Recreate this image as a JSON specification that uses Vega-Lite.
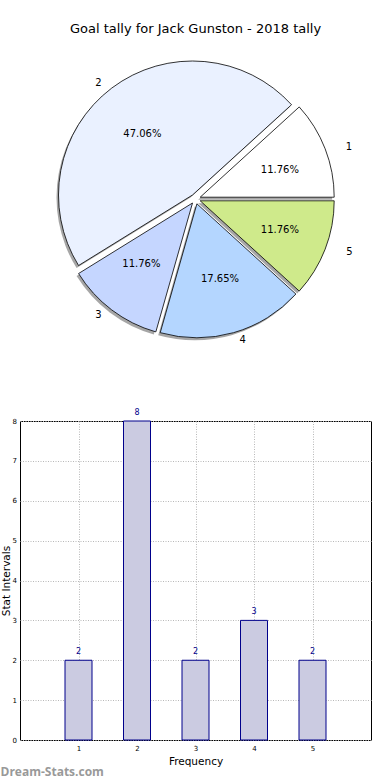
{
  "$schema": "https://vega.github.io/schema/vega-lite/v6.json",
  "padding": {"left": 0, "top": 23, "right": 0, "bottom": 4},
  "autosize": {"type": "pad"},
  "background": "white",
  "config": {"view": {"stroke": null}, "font": "DejaVu Sans"},
  "bounds": "flush",
  "spacing": 73,
  "title": {"text": "Dream-Stats.com", "orient": "bottom", "anchor": "start", "frame": "bounds", "fontSize": 12, "font": "Open Sans", "fontWeight": "bold", "color": "#999999", "offset": 0},
  "datasets": {
    "goals": [
      {"cat": 1, "value": 2, "pct": "11.76%"},
      {"cat": 2, "value": 8, "pct": "47.06%"},
      {"cat": 3, "value": 2, "pct": "11.76%"},
      {"cat": 4, "value": 3, "pct": "17.65%"},
      {"cat": 5, "value": 2, "pct": "11.76%"}
    ]
  },
  "vconcat": [
    {
      "width": 351,
      "height": 298,
      "title": {"text": "Goal tally for Jack Gunston - 2018 tally", "fontSize": 13, "fontWeight": "normal", "font": "DejaVu Sans", "color": "#000000", "offset": 14},
      "data": {"name": "goals"},
      "transform": [
        {"stack": "value", "groupby": [], "as": ["t0", "t1"], "sort": [{"field": "cat", "order": "ascending"}]},
        {"calculate": "(datum.t0 + datum.t1) / 2", "as": "tm"}
      ],
      "layer": [
        {"transform": [{"filter": "datum.cat == 1"}], "mark": {"type": "arc", "outerRadius": 134, "fill": "#4d4d4d", "opacity": 0.5, "xOffset": 2.7, "yOffset": 0.7},
         "encoding": {"theta": {"field": "t0", "type": "quantitative", "scale": {"domain": [0, 17], "range": [1.5708, -4.7124]}}, "theta2": {"field": "t1"}}},
        {"transform": [{"filter": "datum.cat == 2"}], "mark": {"type": "arc", "outerRadius": 134, "fill": "#4d4d4d", "opacity": 0.5, "xOffset": -5, "yOffset": -1.5},
         "encoding": {"theta": {"field": "t0", "type": "quantitative", "scale": {"domain": [0, 17], "range": [1.5708, -4.7124]}}, "theta2": {"field": "t1"}}},
        {"transform": [{"filter": "datum.cat == 3"}], "mark": {"type": "arc", "outerRadius": 134, "fill": "#4d4d4d", "opacity": 0.5, "xOffset": -5, "yOffset": 6.5},
         "encoding": {"theta": {"field": "t0", "type": "quantitative", "scale": {"domain": [0, 17], "range": [1.5708, -4.7124]}}, "theta2": {"field": "t1"}}},
        {"transform": [{"filter": "datum.cat == 4"}], "mark": {"type": "arc", "outerRadius": 134, "fill": "#4d4d4d", "opacity": 0.5, "xOffset": -0.6, "yOffset": 7.3},
         "encoding": {"theta": {"field": "t0", "type": "quantitative", "scale": {"domain": [0, 17], "range": [1.5708, -4.7124]}}, "theta2": {"field": "t1"}}},
        {"transform": [{"filter": "datum.cat == 5"}], "mark": {"type": "arc", "outerRadius": 134, "fill": "#4d4d4d", "opacity": 0.5, "xOffset": 2.7, "yOffset": 4.3},
         "encoding": {"theta": {"field": "t0", "type": "quantitative", "scale": {"domain": [0, 17], "range": [1.5708, -4.7124]}}, "theta2": {"field": "t1"}}},
        {"transform": [{"filter": "datum.cat == 1"}],
         "layer": [
           {"mark": {"type": "arc", "outerRadius": 134, "fill": "#ffffff", "stroke": "#000000", "strokeWidth": 0.8, "xOffset": 4.7, "yOffset": -1.8},
            "encoding": {"theta": {"field": "t0", "type": "quantitative", "scale": {"domain": [0, 17], "range": [1.5708, -4.7124]}}, "theta2": {"field": "t1"}}},
           {"mark": {"type": "text", "radius": 83.5, "fontSize": 10, "fill": "#000000", "align": "center", "baseline": "middle", "xOffset": 6.5, "yOffset": 1.0},
            "encoding": {"theta": {"field": "tm", "type": "quantitative", "stack": null, "scale": {"domain": [0, 17], "range": [1.5708, -4.7124]}}, "text": {"field": "pct"}}},
           {"mark": {"type": "text", "radius": 153, "fontSize": 10, "fill": "#000000", "align": "left", "baseline": "middle", "xOffset": 7.5, "yOffset": 3.0},
            "encoding": {"theta": {"field": "tm", "type": "quantitative", "stack": null, "scale": {"domain": [0, 17], "range": [1.5708, -4.7124]}}, "text": {"field": "cat"}}}
         ]},
        {"transform": [{"filter": "datum.cat == 2"}],
         "layer": [
           {"mark": {"type": "arc", "outerRadius": 134, "fill": "#eaf1ff", "stroke": "#000000", "strokeWidth": 0.8, "xOffset": -3.0, "yOffset": -4.0},
            "encoding": {"theta": {"field": "t0", "type": "quantitative", "scale": {"domain": [0, 17], "range": [1.5708, -4.7124]}}, "theta2": {"field": "t1"}}},
           {"mark": {"type": "text", "radius": 79, "fontSize": 10, "fill": "#000000", "align": "center", "baseline": "middle", "xOffset": -5.5, "yOffset": -1.5},
            "encoding": {"theta": {"field": "tm", "type": "quantitative", "stack": null, "scale": {"domain": [0, 17], "range": [1.5708, -4.7124]}}, "text": {"field": "pct"}}},
           {"mark": {"type": "text", "radius": 146, "fontSize": 10, "fill": "#000000", "align": "right", "baseline": "middle", "xOffset": -6.0, "yOffset": 1.0},
            "encoding": {"theta": {"field": "tm", "type": "quantitative", "stack": null, "scale": {"domain": [0, 17], "range": [1.5708, -4.7124]}}, "text": {"field": "cat"}}}
         ]},
        {"transform": [{"filter": "datum.cat == 3"}],
         "layer": [
           {"mark": {"type": "arc", "outerRadius": 134, "fill": "#c5d6ff", "stroke": "#000000", "strokeWidth": 0.8, "xOffset": -3.0, "yOffset": 4.0},
            "encoding": {"theta": {"field": "t0", "type": "quantitative", "scale": {"domain": [0, 17], "range": [1.5708, -4.7124]}}, "theta2": {"field": "t1"}}},
           {"mark": {"type": "text", "radius": 79, "fontSize": 10, "fill": "#000000", "align": "center", "baseline": "middle", "xOffset": -6.5, "yOffset": 1.5},
            "encoding": {"theta": {"field": "tm", "type": "quantitative", "stack": null, "scale": {"domain": [0, 17], "range": [1.5708, -4.7124]}}, "text": {"field": "pct"}}},
           {"mark": {"type": "text", "radius": 146, "fontSize": 10, "fill": "#000000", "align": "right", "baseline": "middle", "xOffset": -6.0, "yOffset": -1.0},
            "encoding": {"theta": {"field": "tm", "type": "quantitative", "stack": null, "scale": {"domain": [0, 17], "range": [1.5708, -4.7124]}}, "text": {"field": "cat"}}}
         ]},
        {"transform": [{"filter": "datum.cat == 4"}],
         "layer": [
           {"mark": {"type": "arc", "outerRadius": 134, "fill": "#b4d6ff", "stroke": "#000000", "strokeWidth": 0.8, "xOffset": 1.4, "yOffset": 4.8},
            "encoding": {"theta": {"field": "t0", "type": "quantitative", "scale": {"domain": [0, 17], "range": [1.5708, -4.7124]}}, "theta2": {"field": "t1"}}},
           {"mark": {"type": "text", "radius": 77, "fontSize": 10, "fill": "#000000", "align": "center", "baseline": "middle", "xOffset": 3.4, "yOffset": 6.0},
            "encoding": {"theta": {"field": "tm", "type": "quantitative", "stack": null, "scale": {"domain": [0, 17], "range": [1.5708, -4.7124]}}, "text": {"field": "pct"}}},
           {"mark": {"type": "text", "radius": 141, "fontSize": 10, "fill": "#000000", "align": "left", "baseline": "middle", "xOffset": 5.4, "yOffset": 5.8},
            "encoding": {"theta": {"field": "tm", "type": "quantitative", "stack": null, "scale": {"domain": [0, 17], "range": [1.5708, -4.7124]}}, "text": {"field": "cat"}}}
         ]},
        {"transform": [{"filter": "datum.cat == 5"}],
         "layer": [
           {"mark": {"type": "arc", "outerRadius": 134, "fill": "#cfea8b", "stroke": "#000000", "strokeWidth": 0.8, "xOffset": 4.7, "yOffset": 1.8},
            "encoding": {"theta": {"field": "t0", "type": "quantitative", "scale": {"domain": [0, 17], "range": [1.5708, -4.7124]}}, "theta2": {"field": "t1"}}},
           {"mark": {"type": "text", "radius": 83.5, "fontSize": 10, "fill": "#000000", "align": "center", "baseline": "middle", "xOffset": 6.5, "yOffset": 0.8},
            "encoding": {"theta": {"field": "tm", "type": "quantitative", "stack": null, "scale": {"domain": [0, 17], "range": [1.5708, -4.7124]}}, "text": {"field": "pct"}}},
           {"mark": {"type": "text", "radius": 153, "fontSize": 10, "fill": "#000000", "align": "left", "baseline": "middle", "xOffset": 8.0, "yOffset": -2.0},
            "encoding": {"theta": {"field": "tm", "type": "quantitative", "stack": null, "scale": {"domain": [0, 17], "range": [1.5708, -4.7124]}}, "text": {"field": "cat"}}}
         ]}
      ]
    },
    {
      "width": 351,
      "height": 319,
      "view": {"stroke": "#000000", "strokeWidth": 1},
      "data": {"name": "goals"},
      "encoding": {
        "x": {"field": "cat", "type": "quantitative", "scale": {"domain": [0, 6], "nice": false, "zero": false, "padding": 0},
              "axis": {"values": [1, 2, 3, 4, 5], "grid": true, "gridDash": [1, 1.5], "gridColor": "#b8b8b8", "gridOpacity": 1, "domain": false, "ticks": false, "tickSize": 0, "labelFontSize": 7, "labelPadding": 4, "labelColor": "#000000", "labelFlush": false, "title": "Frequency", "titleFontSize": 10.5, "titleFontWeight": "normal", "titleColor": "#000000", "titlePadding": 5}},
        "y": {"field": "value", "type": "quantitative", "scale": {"domain": [0, 8], "nice": false},
              "axis": {"values": [0, 1, 2, 3, 4, 5, 6, 7, 8], "grid": true, "gridDash": [1, 1.5], "gridColor": "#b8b8b8", "gridOpacity": 1, "domain": false, "ticks": false, "tickSize": 0, "labelFontSize": 7, "labelPadding": 3.5, "labelColor": "#000000", "labelFlush": false, "labelOverlap": false, "title": "Stat Intervals", "titleFontSize": 10.5, "titleFontWeight": "normal", "titleColor": "#000000", "titleX": -9}}
      },
      "layer": [
        {"mark": {"type": "bar", "size": 27, "fill": "#cbcbe1", "stroke": "#00008b", "strokeWidth": 1}},
        {"mark": {"type": "text", "dy": -8, "fontSize": 8, "fill": "#00008b"}, "encoding": {"text": {"field": "value"}}}
      ]
    }
  ]
}
